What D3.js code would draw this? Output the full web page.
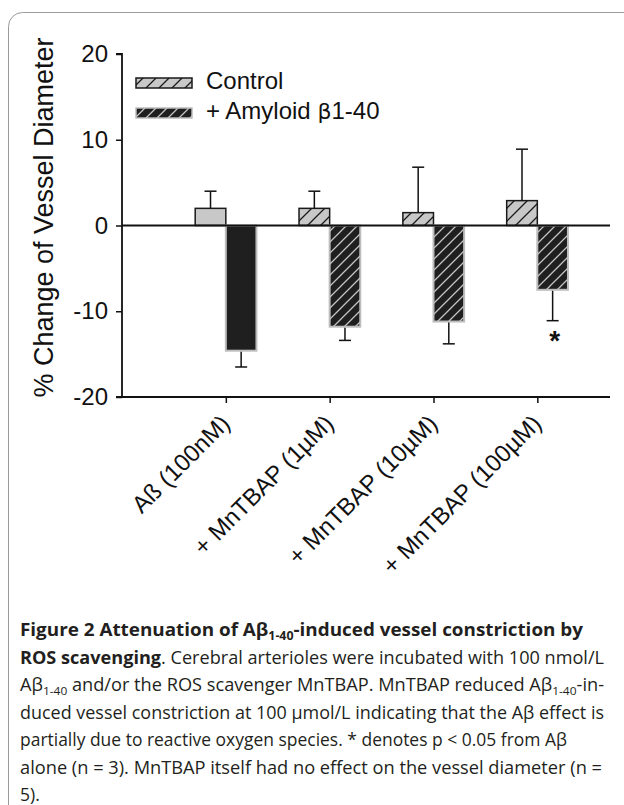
<!DOCTYPE html>
<html>
<head>
<meta charset="utf-8">
<script src="https://cdn.jsdelivr.net/npm/d3@7"></script>
<style>
  html, body { margin: 0; padding: 0; background: #fff; }
  svg { display: block; }
</style>
</head>
<body>
<svg id="chart" width="624" height="805"></svg>
<script>
// ---- data ----
const categories = ["Aß (100nM)", "+ MnTBAP (1µM)", "+ MnTBAP (10µM)", "+ MnTBAP (100µM)"];
const controlMean = [2.0, 2.0, 1.5, 2.9];
const controlErr = [2.0, 2.0, 5.3, 6.0];
const amyloidMean = [-14.6, -11.8, -11.2, -7.5];
const amyloidErr = [1.9, 1.6, 2.6, 3.6];
const hatched = [false, true, true, true];
const significance = ["", "", "", "*"];
const yTicks = [20, 10, 0, -10, -20];
const seriesNames = ["Control", "+ Amyloid β1-40"];

const svg = d3.select("#chart");
const defs = svg.append("defs");

function hatch(id, bg, fg, size, sw) {
  const p = defs.append("pattern").attr("id", id)
    .attr("patternUnits", "userSpaceOnUse")
    .attr("width", size).attr("height", size);
  p.append("rect").attr("width", size).attr("height", size).attr("fill", bg);
  p.append("path")
    .attr("d", `M0,${size} L${size},0 M${-size/2},${size/2} L${size/2},${-size/2} M${size/2},${size*1.5} L${size*1.5},${size/2}`)
    .attr("stroke", fg).attr("stroke-width", sw).attr("fill", "none");
}
hatch("hCtrl", "#c8c8c8", "#1a1a1a", 13, 1.3);
hatch("hAmy", "#1f1f1f", "#c4c4c4", 11, 1.3);

// card border
svg.append("rect").attr("x", 8.5).attr("y", 12.5).attr("width", 640).attr("height", 820)
  .attr("rx", 14).attr("fill", "none").attr("stroke", "#9a9a9a").attr("stroke-width", 1);

// ---- scales ----
const x = d3.scaleLinear().domain([0, 4.7]).range([122, 610]);
const y = d3.scaleLinear().domain([-20, 20]).range([397, 54]);
const barW = 0.295;
const axisFont = "Liberation Sans, Arial, sans-serif";

const g = svg.append("g");

// bars: control (left of tick), amyloid (right of tick)
categories.forEach((c, i) => {
  const cx = i + 1;
  g.append("rect")
    .attr("x", x(cx - barW)).attr("width", x(cx) - x(cx - barW))
    .attr("y", y(Math.max(0, controlMean[i]))).attr("height", Math.abs(y(controlMean[i]) - y(0)))
    .attr("fill", hatched[i] ? "url(#hCtrl)" : "#c8c8c8")
    .attr("stroke", "#1a1a1a").attr("stroke-width", 1.5);
  g.append("rect")
    .attr("x", x(cx)).attr("width", x(cx + barW) - x(cx))
    .attr("y", y(Math.max(0, amyloidMean[i]))).attr("height", Math.abs(y(amyloidMean[i]) - y(0)))
    .attr("fill", hatched[i] ? "url(#hAmy)" : "#1f1f1f")
    .attr("stroke", "#bdbdbd").attr("stroke-width", 2);
});

// error bars (one sided)
const capHalf = 6;
categories.forEach((c, i) => {
  const cx = i + 1;
  const xc = (x(cx - barW) + x(cx)) / 2;
  const ya = y(controlMean[i]), yb = y(controlMean[i] + controlErr[i]);
  g.append("line").attr("x1", xc).attr("x2", xc).attr("y1", ya).attr("y2", yb)
    .attr("stroke", "#111").attr("stroke-width", 1.5);
  g.append("line").attr("x1", xc - capHalf).attr("x2", xc + capHalf).attr("y1", yb).attr("y2", yb)
    .attr("stroke", "#111").attr("stroke-width", 1.5);
  const xa = (x(cx) + x(cx + barW)) / 2;
  const y1 = y(amyloidMean[i]) + 1, y2 = y(amyloidMean[i] - amyloidErr[i]);
  g.append("line").attr("x1", xa).attr("x2", xa).attr("y1", y1).attr("y2", y2)
    .attr("stroke", "#111").attr("stroke-width", 1.5);
  g.append("line").attr("x1", xa - capHalf).attr("x2", xa + capHalf).attr("y1", y2).attr("y2", y2)
    .attr("stroke", "#111").attr("stroke-width", 1.5);
  if (significance[i]) {
    g.append("text").attr("x", xa + 2).attr("y", y2 + 29)
      .attr("text-anchor", "middle")
      .attr("font-family", axisFont)
      .attr("font-weight", "bold").attr("font-size", 28).attr("fill", "#111")
      .text(significance[i]);
  }
});

// zero line
g.append("line").attr("x1", x(0)).attr("x2", x(4.7)).attr("y1", y(0)).attr("y2", y(0))
  .attr("stroke", "#111").attr("stroke-width", 1.8);

// y axis
const yAxis = d3.axisLeft(y).tickValues(yTicks).tickSize(6).tickPadding(8).tickFormat(d => String(d));
const yg = svg.append("g").attr("transform", `translate(${x(0)},0)`).call(yAxis);
yg.select(".domain").attr("stroke", "#111").attr("stroke-width", 1.8).attr("d", `M-6,${y(20)}H0V${y(-20)}H-6`);
yg.selectAll(".tick line").attr("stroke", "#111").attr("stroke-width", 1.5);
yg.selectAll(".tick text").attr("font-family", axisFont)
  .attr("font-size", 24).attr("fill", "#111");

// x axis
const xAxis = d3.axisBottom(x).tickValues([1, 2, 3, 4]).tickSize(6).tickFormat(d => categories[d - 1]);
const xg = svg.append("g").attr("transform", `translate(0,${y(-20)})`).call(xAxis);
xg.select(".domain").attr("stroke", "#111").attr("stroke-width", 1.8).attr("d", `M${x(0)},0H${x(4.7)}`);
xg.selectAll(".tick line").attr("stroke", "#111").attr("stroke-width", 1.5);
xg.selectAll(".tick text")
  .attr("font-family", axisFont).attr("font-size", 24).attr("fill", "#111")
  .attr("text-anchor", "end").attr("dy", 0).attr("y", 0)
  .attr("transform", "translate(5,28) rotate(-45)");

// y title
svg.append("text")
  .attr("transform", `translate(53,${(y(20) + y(-20)) / 2 - 8}) rotate(-90)`)
  .attr("text-anchor", "middle")
  .attr("font-family", axisFont).attr("font-size", 27).attr("fill", "#111")
  .text("% Change of Vessel Diameter");

// legend
const legFills = ["url(#hCtrl)", "url(#hAmy)"];
const legStroke = ["#1a1a1a", "#bdbdbd"];
seriesNames.forEach((s, i) => {
  const ly = 78 + i * 30;
  svg.append("rect").attr("x", 136).attr("y", ly).attr("width", 56).attr("height", 10)
    .attr("fill", legFills[i]).attr("stroke", legStroke[i]).attr("stroke-width", 1.5);
  const t = svg.append("text").attr("x", 206).attr("y", ly + 11)
    .attr("font-family", axisFont).attr("font-size", 24).attr("fill", "#111");
  if (i === 0) t.text(s);
  else {
    t.append("tspan").text("+ Amyloid ");
    t.append("tspan").attr("font-family", "DejaVu Sans, sans-serif").attr("font-size", 22).text("β");
    t.append("tspan").text("1-40");
  }
});

// caption
const capFont = "Open Sans, Noto Sans, sans-serif";
const capLines = [
  { w: 563, parts: [["b", "Figure 2 Attenuation of Aβ"], ["bs", "1-40"], ["b", "-induced vessel constriction by"]] },
  { w: 584, parts: [["b", "ROS scavenging"], ["n", ". Cerebral arterioles were incubated with 100 nmol/L"]] },
  { w: 584, parts: [["n", "Aβ"], ["s", "1-40"], ["n", " and/or the ROS scavenger MnTBAP. MnTBAP reduced Aβ"], ["s", "1-40"], ["n", "-in-"]] },
  { w: 584, parts: [["n", "duced vessel constriction at 100 µmol/L indicating that the Aβ effect is"]] },
  { w: 547, parts: [["n", "partially due to reactive oxygen species. * denotes p < 0.05 from Aβ"]] },
  { w: 582, parts: [["n", "alone (n = 3). MnTBAP itself had no effect on the vessel diameter (n ="]] },
  { w: 0, parts: [["n", "5)."]] }
];
capLines.forEach((ln, i) => {
  const t = svg.append("text").attr("x", 20).attr("y", 636 + i * 27.5)
    .attr("font-family", capFont).attr("font-size", 17.5).attr("fill", "#231f20");
  if (ln.w) t.attr("textLength", ln.w).attr("lengthAdjust", "spacingAndGlyphs");
  let prevSub = false;
  ln.parts.forEach(([k, s]) => {
    const sp = t.append("tspan").text(s);
    if (k[0] === "b") sp.attr("font-weight", "bold");
    const isSub = k.endsWith("s");
    if (isSub) sp.attr("font-size", 11.5).attr("dy", 4);
    else if (prevSub) sp.attr("dy", -4);
    prevSub = isSub;
  });
});
</script>
</body>
</html>
